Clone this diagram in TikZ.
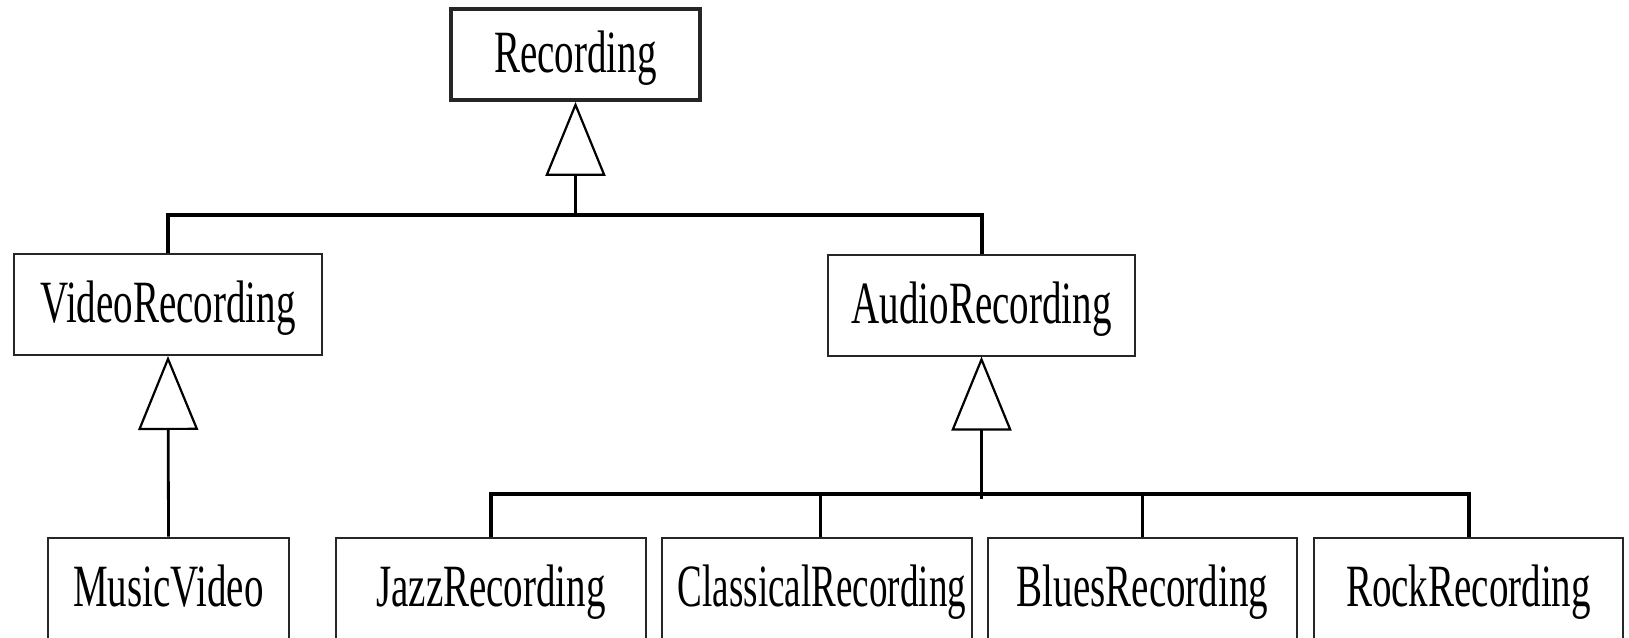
\documentclass[tikz,border=0pt]{standalone}
\usepackage{fontspec}
\setmainfont{Liberation Serif}[FakeStretch=0.65]
\usetikzlibrary{arrows.meta}
\tikzset{
  cls/.style={draw=black!85, line width=2pt, inner sep=0pt, minimum height=101pt,
    text height=48pt, text depth=12pt,
    font=\fontsize{60}{72}\selectfont},
  gen/.style={line width=2.8pt, -{Triangle[open, length=74pt, width=60pt, line width=2.2pt]}},
  bus/.style={line width=4pt},
  leg/.style={line width=3pt}
}
\begin{document}
\begin{tikzpicture}[x=1pt,y=-1pt]
\useasboundingbox (0,0) rectangle (1629,637);
\node[cls, line width=3.8pt, minimum width=249pt, minimum height=91pt] (rec) at (575.5,54.5) {Recording};
\node[cls, minimum width=308pt] (video) at (168,304.5) {VideoRecording};
\node[cls, minimum width=307pt] (audio) at (981.5,305) {AudioRecording};
\node[cls, minimum width=241pt] (music) at (168.5,588) {MusicVideo};
\node[cls, minimum width=310pt] (jazz) at (491,588) {JazzRecording};
\node[cls, minimum width=310pt] (classical) at (817,588) {\hspace{10pt}\scalebox{0.95}[1]{ClassicalRecording}};
\node[cls, minimum width=309pt] (blues) at (1142.5,588) {BluesRecording};
\node[cls, minimum width=309pt] (rock) at (1468.5,588) {RockRecording};
\coordinate (hub1) at (575.5,215);
\coordinate (hub2) at (981.5,494);
\coordinate (hub2tail) at (981.5,499);
% top hierarchy
\draw[bus] (video.north) |- (hub1) -| (audio.north);
\draw[gen] (hub1) -- (rec.south);
% video
\draw[gen] (music.north) -- (video.south);
% audio
\draw[bus] (jazz.north) |- (hub2) -| (rock.north);
\draw[leg] ([xshift=3.5pt]classical.north) -- ([xshift=3.5pt]classical.north |- hub2);
\draw[leg] (blues.north) -- (blues.north |- hub2);
\draw[gen] (hub2tail) -- (audio.south);
\end{tikzpicture}
\end{document}
